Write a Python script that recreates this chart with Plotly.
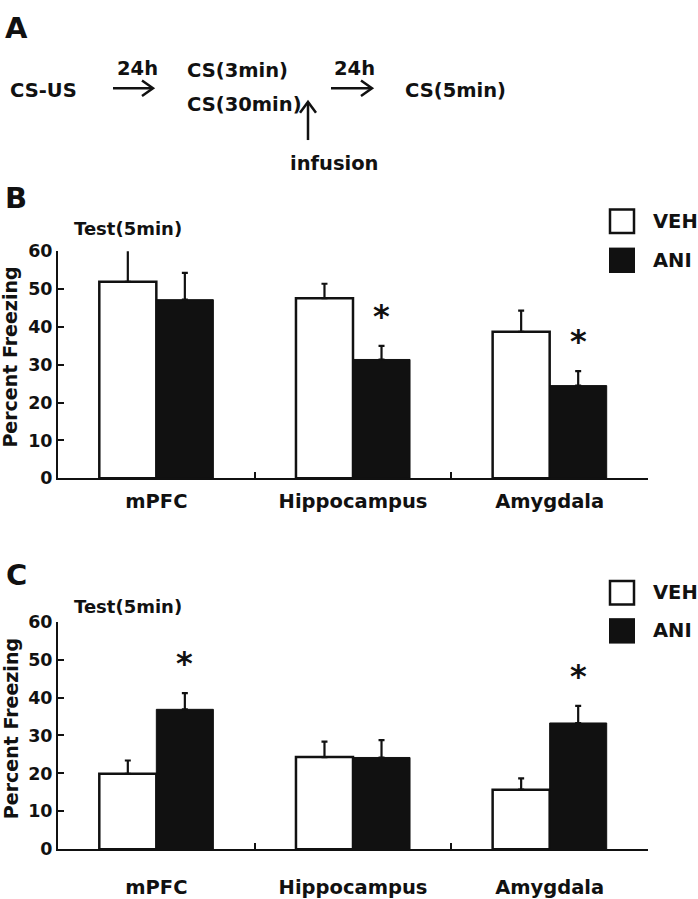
import plotly.graph_objects as go

W, H = 698, 899

# ---------------- data ----------------
regions = ["mPFC", "Hippocampus", "Amygdala"]
series_names = ["VEH", "ANI"]

# Panel B
b_veh = [51.9, 47.6, 38.7]
b_veh_err = [8.5, 3.8, 5.6]
b_ani = [47.2, 31.4, 24.5]
b_ani_err = [7.1, 3.6, 3.8]
b_sig_ani = [False, True, True]

# Panel C
c_veh = [19.9, 24.3, 15.7]
c_veh_err = [3.5, 4.1, 3.0]
c_ani = [36.9, 24.2, 33.3]
c_ani_err = [4.3, 4.6, 4.5]
c_sig_ani = [True, False, True]

y_ticks = [0, 10, 20, 30, 40, 50, 60]

FONT = "DejaVu Sans"
BLACK = "#111111"


def px(x):
    return x / W


def py(y):
    return 1 - y / H


fig = go.Figure()


def add_panel(veh, veh_err, ani, ani_err, xa, ya):
    fig.add_trace(go.Bar(
        x=regions, y=veh, name=series_names[0], xaxis=xa, yaxis=ya, cliponaxis=False,
        marker=dict(color="white", line=dict(color=BLACK, width=2.5)),
        error_y=dict(type="data", symmetric=False, array=veh_err,
                     arrayminus=[0] * len(veh), color=BLACK, thickness=2.2, width=3),
        showlegend=False,
    ))
    fig.add_trace(go.Bar(
        x=regions, y=ani, name=series_names[1], xaxis=xa, yaxis=ya, cliponaxis=False,
        marker=dict(color=BLACK, line=dict(color=BLACK, width=1)),
        error_y=dict(type="data", symmetric=False, array=ani_err,
                     arrayminus=[0] * len(ani), color=BLACK, thickness=2.2, width=3),
        showlegend=False,
    ))


add_panel(b_veh, b_veh_err, b_ani, b_ani_err, "x", "y")
add_panel(c_veh, c_veh_err, c_ani, c_ani_err, "x2", "y2")

axis_common_x = dict(
    type="category", categoryorder="array", categoryarray=regions,
    range=[-0.5, 2.5], showline=True, linecolor=BLACK, linewidth=2,
    ticks="inside", tickson="boundaries", ticklen=6, tickwidth=2, tickcolor=BLACK,
    tickfont=dict(family=FONT, size=19.5, color=BLACK, weight="bold"),
    showgrid=False, zeroline=False, fixedrange=True,
)
axis_common_y = dict(
    range=[0, 60], tickvals=y_ticks, showline=True, linecolor=BLACK, linewidth=2,
    ticks="inside", ticklen=6, tickwidth=2, tickcolor=BLACK,
    tickfont=dict(family=FONT, size=17.5, color=BLACK, weight="bold"),
    showgrid=False, zeroline=False, fixedrange=True, ticklabelstandoff=0,
)

x_dom = [px(58), px(648)]
fig.update_layout(
    width=W, height=H, margin=dict(l=0, r=0, t=0, b=0),
    paper_bgcolor="white", plot_bgcolor="white",
    barmode="group", bargap=0.42, bargroupgap=0,
    xaxis=dict(axis_common_x, domain=x_dom, anchor="y", ticklabelstandoff=4),
    yaxis=dict(axis_common_y, domain=[py(479), py(246.7)], anchor="x"),
    xaxis2=dict(axis_common_x, domain=x_dom, anchor="y2", ticklabelstandoff=19),
    yaxis2=dict(axis_common_y, domain=[py(858.3), py(625.7)], anchor="x2"),
)

ann = []
shapes = []


def txt(text, x, y, size=19.5, xanchor="left", angle=0):
    ann.append(dict(text=text, x=px(x), y=py(y), xref="paper", yref="paper",
                    xanchor=xanchor, yanchor="middle", showarrow=False, textangle=angle,
                    font=dict(family=FONT, size=size, color=BLACK, weight="bold")))


def path_shape(points):
    d = "M " + " L ".join(f"{px(a)},{py(b)}" for a, b in points)
    shapes.append(dict(type="path", path=d, xref="paper", yref="paper",
                       line=dict(color=BLACK, width=2.5)))


# ---- Panel A: schematic ----
txt("A", 16.5, 18, size=29, xanchor="center")
txt("CS-US", 8, 82)
txt("24h", 115, 60)
path_shape([(113, 80), (153, 80)])
path_shape([(142, 72), (153, 80), (142, 88)])
txt("CS(3min)", 185, 62)
txt("CS(30min)", 185, 97)
path_shape([(308, 133), (308, 94)])
path_shape([(300, 105), (308, 94), (316, 105)])
txt("infusion", 288, 157)
txt("24h", 332, 60)
path_shape([(331, 80), (372, 80)])
path_shape([(361, 72), (372, 80), (361, 88)])
txt("CS(5min)", 403, 82)


# ---- panel decorations for B and C ----
def panel_deco(letter, letter_y, test_y, title_y, leg_w_top, leg_b_top):
    txt(letter, 16, letter_y, size=29, xanchor="center")
    txt("Test(5min)", 128, test_y, size=18, xanchor="center")
    txt("Percent Freezing", 10.5, title_y, size=19, xanchor="center", angle=-90)
    shapes.append(dict(type="rect", xref="paper", yref="paper",
                       x0=px(610), x1=px(634), y0=py(leg_w_top + 25), y1=py(leg_w_top + 1),
                       fillcolor="white", line=dict(color=BLACK, width=2.5)))
    shapes.append(dict(type="rect", xref="paper", yref="paper",
                       x0=px(609), x1=px(635), y0=py(leg_b_top + 26), y1=py(leg_b_top),
                       fillcolor=BLACK, line=dict(color=BLACK, width=0)))
    txt(series_names[0], 651, leg_w_top + 13, size=19.5)
    txt(series_names[1], 651, leg_b_top + 13, size=19.5)


panel_deco("B", 192.5, 223, 355, 203, 243)
panel_deco("C", 577.5, 610, 735, 583, 622)


def stars(ani, ani_err, sig, xr, yr):
    for r, v, e, s in zip(regions, ani, ani_err, sig):
        if s:
            ann.append(dict(text="*", x=r, y=v + e, xref=xr, yref=yr, xshift=28.5,
                            yshift=30, xanchor="center", yanchor="middle", showarrow=False,
                            font=dict(family=FONT, size=32, color=BLACK, weight="bold")))


stars(b_ani, b_ani_err, b_sig_ani, "x", "y")
stars(c_ani, c_ani_err, c_sig_ani, "x2", "y2")

fig.update_layout(annotations=ann, shapes=shapes)
fig.write_html("out.html", config={"displayModeBar": False},
               post_script="document.body.style.margin='0';document.body.style.padding='0';")
